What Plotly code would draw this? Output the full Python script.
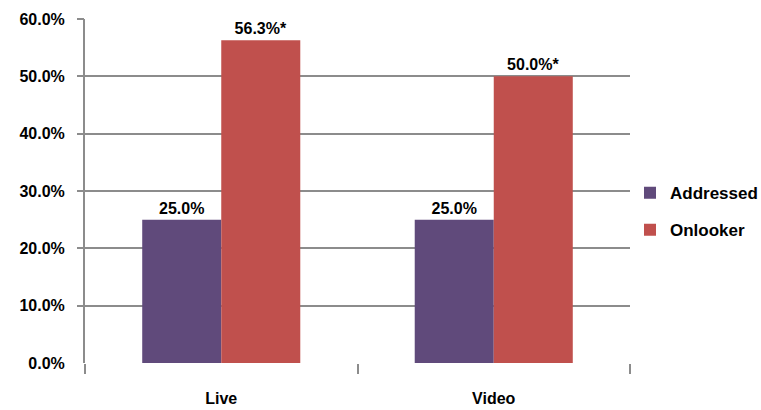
import plotly.graph_objects as go

categories = ["Live", "Video"]
addressed = [25.0, 25.0]
onlooker = [56.3, 50.0]
addressed_flags = ["", ""]
onlooker_flags = ["*", "*"]
y_ticks = [0, 10, 20, 30, 40, 50, 60]
y_tick_labels = [f"{v:.1f}%" for v in y_ticks]
grid_ticks = [10, 20, 30, 40, 50, 60]

FONT = "Liberation Sans, Arial, sans-serif"
GRID = "#8c8c8c"

fig = go.Figure()
fig.add_trace(go.Bar(
    name="Addressed", x=categories, y=addressed,
    marker=dict(color="#604a7b", line=dict(width=0)),
    text=[f"{v:.1f}%{f}" for v, f in zip(addressed, addressed_flags)],
    textposition="outside", cliponaxis=False,
    textfont=dict(family=FONT, size=16, color="black", weight="bold"),
    legendgroup="a",
))
fig.add_trace(go.Bar(
    name="Onlooker", x=categories, y=onlooker,
    marker=dict(color="#c0504d", line=dict(width=0)),
    text=[f"{v:.1f}%{f}" for v, f in zip(onlooker, onlooker_flags)],
    textposition="outside", cliponaxis=False,
    textfont=dict(family=FONT, size=16, color="black", weight="bold"),
    legendgroup="b",
))
# empty helper trace so the grid-only overlay axis is drawn
fig.add_trace(go.Scatter(
    x=categories, y=[None, None], yaxis="y2", mode="lines",
    showlegend=False, hoverinfo="skip",
))

fig.update_layout(
    width=761, height=410,
    margin=dict(l=85, r=131, t=19, b=47, autoexpand=False),
    paper_bgcolor="white", plot_bgcolor="white",
    barmode="group", bargap=0.42, bargroupgap=0,
    font=dict(family=FONT, size=16, color="black", weight="bold"),
    legend=dict(x=1.0, xanchor="left", y=0.44, yanchor="middle",
                tracegroupgap=12, font=dict(size=17, weight="bold"),
                bgcolor="rgba(0,0,0,0)"),
    yaxis=dict(
        range=[0, 60], tickvals=y_ticks, ticktext=y_tick_labels,
        showgrid=False, zeroline=False, showline=True, linecolor=GRID, linewidth=2,
        ticks="", ticklabelstandoff=15,
        tickfont=dict(family=FONT, size=16, color="black", weight="bold"),
    ),
    yaxis2=dict(
        overlaying="y", anchor="x", side="left", range=[0, 60], tickvals=grid_ticks,
        showticklabels=False, showgrid=True, gridcolor=GRID, gridwidth=2,
        zeroline=False, showline=False,
        ticks="outside", ticklen=7, tickcolor=GRID, tickwidth=2,
    ),
    xaxis=dict(
        showline=False, showgrid=False, zeroline=False,
        ticks="outside", tickson="boundaries", ticklen=10, tickcolor=GRID, tickwidth=2,
        ticklabelstandoff=24,
        tickfont=dict(family=FONT, size=16, color="black", weight="bold"),
    ),
)

fig.write_html("out.html")
